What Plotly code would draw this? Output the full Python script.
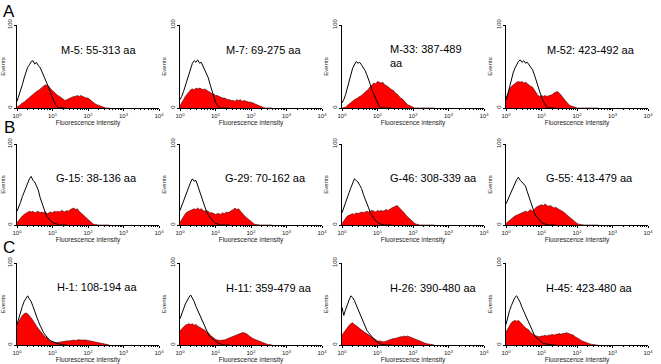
import plotly.graph_objects as go
import numpy as np

# ---------------- data ----------------
panel_labels = ["M-5: 55-313 aa", "M-7: 69-275 aa", "M-33: 387-489<br>aa", "M-52: 423-492 aa",
                "G-15: 38-136 aa", "G-29: 70-162 aa", "G-46: 308-339 aa", "G-55: 413-479 aa",
                "H-1: 108-194 aa", "H-11: 359-479 aa", "H-26: 390-480 aa", "H-45: 423-480 aa"]
row_letters = ["A", "B", "C"]
x_tick_vals = [1, 10, 100, 1000, 10000]
x_tick_text = ["10<sup>0</sup>", "10<sup>1</sup>", "10<sup>2</sup>", "10<sup>3</sup>", "10<sup>4</sup>"]
y_tick_vals = [0, 100]

# channel positions (log10 of fluorescence intensity)
log_ctrl = np.round(np.arange(29) * 0.05, 2)   # 10^0 .. 10^1.4
log_red = np.round(np.arange(53) * 0.05, 2)    # 10^0 .. 10^2.6

ctrl_M5 = [8,14,21,28,36,43,49,52,56,57,53,55,51,49,44,40,36,31,24,18,12,7,3,1,0.5,0,0,0,0]
red_M5 = [1,2,4,6,7,9,11,12,15,16,18,20,21,23,24,26,28,27,26,23,21,18,16,15,14,12,10,9,10,11,12,13,14,14,15,14,15,14,13,12,12,10,9,7,5,4,3,2,1,0.5,0,0,0]

ctrl_M7 = [10,14,20,27,35,43,50,54,57,55,58,54,55,50,47,41,36,28,20,13,7,3,1,0,0,0,0,0,0]
red_M7 = [3,6,10,14,17,20,22,23,22,24,23,24,23,22,23,21,20,19,17,17,15,15,14,13,12,12,11,10,10,9,9,8,10,9,10,8,9,8,8,7,7,6,5,4,3,2,1,0.5,0,0,0,0,0]

ctrl_M33 = [6,10,16,23,31,40,48,53,56,54,55,52,49,45,40,35,28,21,16,10,5,2,0.5,0,0,0,0,0,0]
red_M33 = [0,0.5,1,3,5,7,9,10,11,13,14,15,17,19,20,23,26,28,30,29,32,31,30,31,28,27,25,24,22,21,18,17,14,12,11,8,6,4,3,1.5,0.5,0,0,0,0,0,0,0,0,0,0,0,0]

ctrl_M52 = [10,16,25,34,42,48,53,56,58,55,57,54,55,52,49,46,40,33,27,20,13,8,4,1,0,0,0,0,0]
red_M52 = [12,18,23,26,28,30,31,32,31,32,30,31,29,28,26,25,22,18,15,14,15,14,15,14,15,16,16,18,19,20,18,16,13,10,7,5,3,2,1,0.5,0,0,0,0,0,0,0,0,0,0,0,0,0]

ctrl_G15 = [17,22,28,35,41,47,52,57,60,55,53,47,43,34,27,20,15,10,7,5,3,2,1,0.5,0,0,0,0,0]
red_G15 = [3,6,9,11,13,14,16,17,16,17,15,16,17,15,16,15,16,14,15,16,15,17,16,17,16,18,17,16,18,17,19,20,21,19,20,17,15,13,10,8,6,4,2,1,0.5,0,0,0,0,0,0,0,0]

ctrl_G29 = [18,24,30,36,42,48,53,57,54,55,48,43,36,28,22,16,12,9,6,4,2,1,0.5,0,0,0,0,0,0]
red_G29 = [3,7,11,14,16,17,18,19,20,19,21,19,20,18,17,18,16,15,15,14,13,14,14,13,15,14,16,15,16,17,19,21,19,20,17,14,12,10,8,6,4,2,1,0.5,0,0,0,0,0,0,0,0,0]

ctrl_G46 = [15,22,28,34,40,46,52,57,55,53,49,45,38,33,26,21,15,11,8,5,3,2,1,0,0,0,0,0,0]
red_G46 = [2,5,8,11,12,13,14,13,15,14,15,16,15,16,17,16,17,18,17,16,18,17,18,17,18,19,18,20,21,22,23,24,22,20,17,15,12,10,8,5,3,2,1,0,0,0,0,0,0,0,0,0,0]

ctrl_G55 = [26,31,36,42,48,53,56,59,55,53,51,48,41,34,27,20,15,11,8,5,3,2,1,0,0,0,0,0,0]
red_G55 = [2,4,6,8,10,11,12,13,14,15,16,17,16,18,19,17,20,22,23,24,25,24,26,24,23,24,22,21,22,20,19,18,17,15,13,11,9,7,5,3,2,1,0.5,0,0,0,0,0,0,0,0,0,0]

ctrl_H1 = [25,33,40,47,53,57,60,56,53,47,40,34,29,24,19,15,12,9,7,5,4,3,2,1.5,1,0.5,0,0,0]
red_H1 = [25,29,33,36,38,39,38,36,33,30,26,23,20,17,14,12,10,8,6,4.5,3.5,3,2.5,3,3.5,4,4,4.5,5,5,5,5.5,6,5.5,6,6.5,6,6,6.5,6,5.5,5,5,4.5,4,3.5,3,2.5,2,1.5,1,0.5,0]

ctrl_H11 = [32,37,44,50,55,58,61,57,53,47,42,36,31,26,22,17,13,10,8,6,4,3,2,1,0.5,0,0,0,0]
red_H11 = [17,20,22,24,25,26,25,26,24,25,23,22,21,20,18,16,15,12,10,8,7,6,5.5,5.5,6,6,7,8,9,10,11,12,13,14,15,15,15,14,13,11,9,8,7,6,5,4,3,2,1.5,1,0.5,0,0]

ctrl_H26 = [46,36,43,50,55,60,58,54,49,43,38,33,27,23,18,15,12,9,7,5,3,2,1,0.5,0,0,0,0,0]
red_H26 = [12,15,19,22,24,26,27,25,24,22,20,18,17,15,14,12,10,9,8,6,5,5,4,4,4,5,6,6,7,8,8,9,9,10,10,11,10,11,10,9,8,7,6,5,4,3.5,3,2,1.5,1,0.5,0,0]

ctrl_H45 = [25,34,42,48,53,58,60,56,52,46,41,36,31,25,20,15,12,9,7,5,4,2,1.5,1,0.5,0,0,0,0]
red_H45 = [16,20,24,27,29,30,29,30,28,25,23,21,20,18,15,13,12,11,10,10,11,11,12,11,12,12,13,12,13,13,14,13,14,14,15,14,13,13,12,10,9,7,6,5,4,3,2,1.5,1,0.5,0,0,0]

controls = [ctrl_M5, ctrl_M7, ctrl_M33, ctrl_M52, ctrl_G15, ctrl_G29, ctrl_G46, ctrl_G55,
            ctrl_H1, ctrl_H11, ctrl_H26, ctrl_H45]
samples = [red_M5, red_M7, red_M33, red_M52, red_G15, red_G29, red_G46, red_G55,
           red_H1, red_H11, red_H26, red_H45]

# ---------------- layout geometry (pixels) ----------------
W, H = 661, 364
col_left = [17, 180, 342, 506]
col_w = 142
row_top = [25, 144, 263]
row_bot = [108, 225, 345]
label_pos = [(59, 50), (224, 50), (388, 56), (545, 50),
             (54, 178), (223, 178), (388, 178), (544, 178),
             (55, 287), (224, 288), (388, 288), (544, 288)]
letter_pos = [(9, 11), (9, 127), (9, 247)]

font_fam = "Arial, Liberation Sans, sans-serif"
minor_vals = [m * 10 ** d for d in range(4) for m in range(2, 10)]

fig = go.Figure()
layout = dict(width=W, height=H, margin=dict(l=0, r=0, t=0, b=0),
              paper_bgcolor="white", plot_bgcolor="white", showlegend=False,
              font=dict(family=font_fam, color="black"))
annotations = []

for i in range(12):
    r, c = divmod(i, 4)
    n = i + 1
    xa = "x" if n == 1 else f"x{n}"
    ya = "y" if n == 1 else f"y{n}"
    fig.add_trace(go.Scatter(x=10 ** log_red, y=samples[i], mode="lines",
                             fill="tozeroy", fillcolor="#ff0000",
                             line=dict(color="#4a0000", width=0.6),
                             xaxis=xa, yaxis=ya, hoverinfo="skip"))
    fig.add_trace(go.Scatter(x=10 ** log_ctrl, y=controls[i], mode="lines",
                             line=dict(color="black", width=1),
                             xaxis=xa, yaxis=ya, hoverinfo="skip"))
    x0 = col_left[c] / W
    x1 = (col_left[c] + col_w) / W
    y0 = 1 - row_bot[r] / H
    y1 = 1 - row_top[r] / H
    layout["xaxis" if n == 1 else f"xaxis{n}"] = dict(
        type="log", range=[0, 4], domain=[x0, x1], anchor=ya,
        showline=True, linecolor="black", linewidth=1, showgrid=False, zeroline=False,
        ticks="outside", ticklen=2, tickcolor="black",
        tickmode="array", tickvals=x_tick_vals, ticktext=x_tick_text,
        tickfont=dict(size=6, color="#222"),
        minor=dict(tickmode="array", tickvals=minor_vals, ticks="outside", ticklen=1,
                   tickcolor="black", showgrid=False),
        title=dict(text="Fluorescence intensity", font=dict(size=6.5, color="#222"), standoff=1),
        automargin=False, fixedrange=True)
    layout["yaxis" if n == 1 else f"yaxis{n}"] = dict(
        range=[0, 100], domain=[y0, y1], anchor=xa,
        showline=True, linecolor="black", linewidth=1, showgrid=False, zeroline=False,
        ticks="outside", ticklen=2, tickcolor="black",
        tickmode="array", tickvals=y_tick_vals, tickangle=-90,
        tickfont=dict(size=6, color="#222"),
        title=dict(text="Events", font=dict(size=6, color="#222"), standoff=2),
        automargin=False, fixedrange=True)
    lx, ly = label_pos[i]
    annotations.append(dict(text=panel_labels[i], xref="paper", yref="paper",
                            x=lx / W, y=1 - ly / H, xanchor="left", yanchor="middle",
                            align="left", showarrow=False,
                            font=dict(size=11, family=font_fam, color="black")))

for k, letter in enumerate(row_letters):
    lx, ly = letter_pos[k]
    annotations.append(dict(text=letter, xref="paper", yref="paper",
                            x=lx / W, y=1 - ly / H, xanchor="center", yanchor="middle",
                            showarrow=False, font=dict(size=17, family=font_fam, color="black")))

layout["annotations"] = annotations
fig.update_layout(**layout)
fig.write_html("out.html", config={"displayModeBar": False, "staticPlot": True},
               post_script="document.body.style.margin='0';document.body.style.overflow='hidden';")
